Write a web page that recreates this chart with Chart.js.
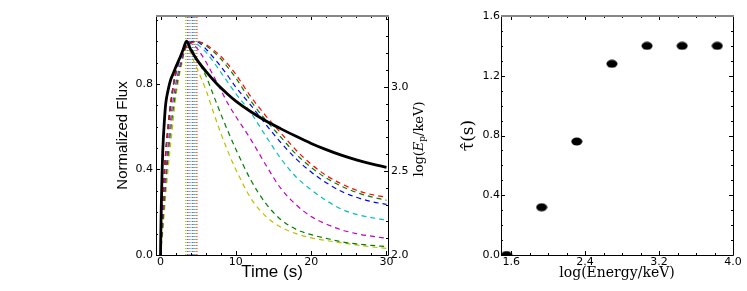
<!DOCTYPE html>
<html><head><meta charset="utf-8">
<script src="https://cdn.jsdelivr.net/npm/chart.js@4"></script>
<style>
html,body{margin:0;padding:0;background:#fff;}
#wrap{position:relative;width:747px;height:291px;overflow:hidden;background:#fff;}
#c1{position:absolute;left:0;top:0;}
#c2{position:absolute;left:440px;top:0;}
</style></head><body>
<div id="wrap"><canvas id="c1" width="440" height="291"></canvas><canvas id="c2" width="307" height="291"></canvas></div>
<script>
// ---------- data (left panel) ----------
const timeGrid = [0,0.1,0.3,0.6,1,1.5,2,2.5,3,3.5,4,4.5,5,6,7,8,9,10,12,14,16,18,20,22,24,26,28,30];
const fluxRed     = [0,0.10,0.26,0.44,0.60,0.75,0.85,0.91,0.95,0.975,0.99,0.998,0.999,0.985,0.96,0.93,0.89,0.845,0.74,0.65,0.57,0.49,0.425,0.372,0.333,0.303,0.283,0.27];
const fluxGreen   = [0,0.10,0.26,0.44,0.60,0.75,0.85,0.91,0.95,0.975,0.99,0.999,0.998,0.98,0.952,0.918,0.875,0.828,0.72,0.63,0.55,0.472,0.41,0.36,0.322,0.293,0.272,0.256];
const fluxBlue    = [0,0.10,0.26,0.44,0.60,0.75,0.85,0.91,0.95,0.98,0.995,0.999,0.995,0.965,0.925,0.882,0.835,0.785,0.70,0.61,0.525,0.45,0.388,0.338,0.298,0.27,0.25,0.237];
const fluxCyan    = [0,0.09,0.24,0.41,0.57,0.725,0.83,0.90,0.945,0.978,0.999,0.995,0.982,0.95,0.905,0.855,0.805,0.755,0.665,0.555,0.45,0.365,0.305,0.255,0.215,0.19,0.175,0.163];
const fluxMagenta = [0,0.06,0.18,0.34,0.51,0.68,0.795,0.875,0.935,0.985,0.998,0.982,0.96,0.905,0.84,0.772,0.705,0.648,0.54,0.42,0.31,0.235,0.18,0.145,0.118,0.10,0.088,0.078];
const fluxDkGreen = [0,0.045,0.14,0.29,0.46,0.63,0.76,0.855,0.93,0.998,0.97,0.94,0.905,0.84,0.75,0.66,0.575,0.495,0.35,0.24,0.165,0.12,0.095,0.078,0.062,0.052,0.045,0.039];
const fluxYellow  = [0,0.035,0.11,0.24,0.40,0.57,0.73,0.84,0.925,0.99,0.945,0.90,0.86,0.775,0.67,0.57,0.48,0.40,0.265,0.18,0.13,0.10,0.08,0.068,0.057,0.047,0.038,0.031];
const curveColors = ['#ff0000','#008000','#0000ff','#00bfbf','#bf00bf','#008000','#bfbf00'];
const curveFluxes = [fluxRed,fluxGreen,fluxBlue,fluxCyan,fluxMagenta,fluxDkGreen,fluxYellow];
const peakTimes   = [4.83,4.57,4.30,4.04,3.78,3.55,3.33];
const peakFlux = 1.0;
const blackTime = [0,0.05,0.1,0.2,0.3,0.5,0.7,1,1.3,1.7,2.1,2.6,3,3.45,4,4.8,6,7.5,9,10,12,14,16,18,20,22,24,26,28,30];
const blackFlux = [0,0.12,0.22,0.38,0.49,0.62,0.71,0.77,0.815,0.85,0.885,0.925,0.96,1.0,0.962,0.915,0.86,0.80,0.75,0.72,0.67,0.627,0.59,0.555,0.522,0.493,0.467,0.445,0.426,0.41];
const timeTicks = [0,10,20,30];
const fluxTicks = [0,0.4,0.8];
const epTicks = [2.0,2.5,3.0];
// ---------- data (right panel) ----------
const logEnergy = [1.55,1.93,2.31,2.69,3.07,3.45,3.83];
const lagTau    = [0,0.32,0.76,1.28,1.40,1.40,1.40];
const energyTicks = [1.6,2.4,3.2,4.0];
const tauTicks = [0,0.4,0.8,1.2,1.6];

function range(a,b,s){const r=[];for(let v=a;v<=b+1e-9;v+=s)r.push(+v.toFixed(4));return r;}

const frameTicks = {
  id:'frameTicks',
  afterDatasetsDraw(chart, args, opts){
    const {ctx, chartArea:a} = chart;
    ctx.save();
    ctx.strokeStyle='#000'; ctx.lineWidth=1;
    (opts.specs||[]).forEach(sp=>{
      const sc = chart.scales[sp.id];
      const draw=(vals,len)=>vals.forEach(v=>{
        const p = Math.round(sc.getPixelForValue(v))+0.5;
        sp.sides.forEach(side=>{
          ctx.beginPath();
          if(side==='bottom'){ctx.moveTo(p,a.bottom);ctx.lineTo(p,a.bottom-len);}
          if(side==='top'){ctx.moveTo(p,a.top);ctx.lineTo(p,a.top+len);}
          if(side==='left'){ctx.moveTo(a.left,p);ctx.lineTo(a.left+len,p);}
          if(side==='right'){ctx.moveTo(a.right,p);ctx.lineTo(a.right-len,p);}
          ctx.stroke();
        });
      });
      draw(sp.major,4); draw(sp.minor,2);
    });
    ctx.strokeStyle='#000'; ctx.lineWidth=1;
    ctx.beginPath();
    ctx.moveTo(a.left+0.5,a.top); ctx.lineTo(a.left+0.5,a.bottom+0.5);
    ctx.lineTo(a.right+0.5,a.bottom+0.5); ctx.lineTo(a.right+0.5,a.top);
    ctx.stroke();
    ctx.strokeStyle='#888'; ctx.lineWidth=2;
    ctx.beginPath(); ctx.moveTo(a.left,a.top); ctx.lineTo(a.right+1,a.top); ctx.stroke();
    ctx.restore();
  }
};

const epTitle = {
  id:'epTitle',
  afterDraw(chart){
    const ctx = chart.ctx;
    ctx.save();
    ctx.translate(420,139);
    ctx.rotate(-Math.PI/2);
    ctx.fillStyle='#000';
    ctx.textBaseline='middle';
    const parts=[['log(','13px "DejaVu Serif"',0],['E','italic 13px "DejaVu Serif"',0],['p','9px "DejaVu Serif"',3],['/keV)','13px "DejaVu Serif"',0]];
    let w=0; parts.forEach(p=>{ctx.font=p[1]; w+=ctx.measureText(p[0]).width;});
    let x=-w/2;
    parts.forEach(p=>{ctx.font=p[1]; ctx.fillText(p[0],x,p[2]); x+=ctx.measureText(p[0]).width;});
    ctx.restore();
  }
};

const tickFont = {family:'DejaVu Sans', size:11};
const yMaxFlux = 1.118;

const lineSets = [];
lineSets.push({data: blackTime.map((t,i)=>({x:t,y:blackFlux[i]})), borderColor:'#000', borderWidth:2.8, cubicInterpolationMode:'monotone', clip:0, yAxisID:'y'});
curveFluxes.forEach((f,k)=>{
  const pts = timeGrid.map((t,i)=>({x:t,y:f[i]}));
  pts.push({x:peakTimes[k], y:peakFlux});
  pts.sort((p,q)=>p.x-q.x);
  lineSets.push({data:pts, borderColor:curveColors[k], borderWidth:1.2, borderDash:[5,4], cubicInterpolationMode:'monotone', clip:0, yAxisID:'y'});
});
peakTimes.forEach((tp,k)=>{
  lineSets.push({data:[{x:tp,y:0},{x:tp,y:yMaxFlux}], borderColor:curveColors[k], borderWidth:1, borderDash:[1,2], clip:0, yAxisID:'y'});
});

new Chart(document.getElementById('c1'), {
  type:'line',
  data:{datasets:lineSets},
  plugins:[frameTicks, epTitle],
  options:{
    responsive:false, animation:false, events:[],
    layout:{padding:{left:0,right:0,top:16,bottom:0}},
    elements:{point:{radius:0}},
    plugins:{legend:{display:false}, tooltip:{enabled:false},
      frameTicks:{specs:[
        {id:'x', sides:['bottom','top'], major:timeTicks, minor:range(0,30,2)},
        {id:'y', sides:['left'], major:fluxTicks, minor:range(0,1.1,0.1)},
        {id:'y2', sides:['right'], major:epTicks, minor:range(2.0,3.4,0.1)}
      ]}},
    scales:{
      x:{type:'linear', min:-0.6, max:30.2, position:'bottom',
         grid:{display:false, drawTicks:false}, border:{display:false},
         ticks:{font:tickFont, color:'#000', padding:1, maxRotation:0, callback:v=>String(v)},
         afterBuildTicks:s=>{s.ticks=timeTicks.map(v=>({value:v}));},
         afterFit:s=>{s.height=36;},
         title:{display:true, text:'Time (s)', color:'#000', font:{family:'Liberation Sans', size:17}, padding:{top:0,bottom:8}}},
      y:{type:'linear', min:0, max:yMaxFlux, position:'left',
         grid:{display:false, drawTicks:false}, border:{display:false},
         ticks:{font:tickFont, color:'#000', padding:3, callback:v=>v.toFixed(1)},
         afterBuildTicks:s=>{s.ticks=fluxTicks.map(v=>({value:v}));},
         afterFit:s=>{s.width=156;},
         title:{display:true, text:'Normalized Flux', color:'#000', font:{family:'Liberation Sans', size:15}, padding:{top:114,bottom:0}}},
      y2:{type:'linear', min:2.0, max:3.42, position:'right',
         grid:{display:false, drawTicks:false}, border:{display:false},
         ticks:{font:tickFont, color:'#000', padding:3, callback:v=>v.toFixed(1)},
         afterBuildTicks:s=>{s.ticks=epTicks.map(v=>({value:v}));},
         afterFit:s=>{s.width=52;}}
    }
  }
});

// ellipse marker
const dot = document.createElement('canvas');
dot.width=12; dot.height=9;
(function(){const g=dot.getContext('2d'); g.fillStyle='#000'; g.beginPath(); g.ellipse(6,4.5,5.5,4,0,0,Math.PI*2); g.fill();})();

new Chart(document.getElementById('c2'), {
  type:'scatter',
  data:{datasets:[{data: logEnergy.map((e,i)=>({x:e,y:lagTau[i]})), pointStyle:dot, pointRadius:5, pointBorderWidth:0, backgroundColor:'#000', borderColor:'#000', clip:0}]},
  plugins:[frameTicks],
  options:{
    responsive:false, animation:false, events:[],
    layout:{padding:{left:0,right:14,top:16,bottom:0}},
    plugins:{legend:{display:false}, tooltip:{enabled:false},
      frameTicks:{specs:[
        {id:'x', sides:['bottom','top'], major:energyTicks, minor:range(1.6,4.0,0.2)},
        {id:'y', sides:['left','right'], major:tauTicks, minor:range(0,1.6,0.1)}
      ]}},
    scales:{
      x:{type:'linear', min:1.49, max:4.0, position:'bottom',
         grid:{display:false, drawTicks:false}, border:{display:false},
         ticks:{font:tickFont, color:'#000', padding:1, maxRotation:0, callback:v=>v.toFixed(1)},
         afterBuildTicks:s=>{s.ticks=energyTicks.map(v=>({value:v}));},
         afterFit:s=>{s.height=36;},
         title:{display:true, text:'log(Energy/keV)', color:'#000', font:{family:'DejaVu Serif', size:14}, padding:{top:0,bottom:9}}},
      y:{type:'linear', min:0, max:1.6, position:'left',
         grid:{display:false, drawTicks:false}, border:{display:false},
         ticks:{font:tickFont, color:'#000', padding:1, callback:v=>v.toFixed(1)},
         afterBuildTicks:s=>{s.ticks=tauTicks.map(v=>({value:v}));},
         afterFit:s=>{s.width=61;},
         title:{display:true, text:'τ\u0302(s)', color:'#000', font:{family:'DejaVu Serif', size:17}, padding:{top:18,bottom:0}}}
    }
  }
});
</script>
</body></html>
